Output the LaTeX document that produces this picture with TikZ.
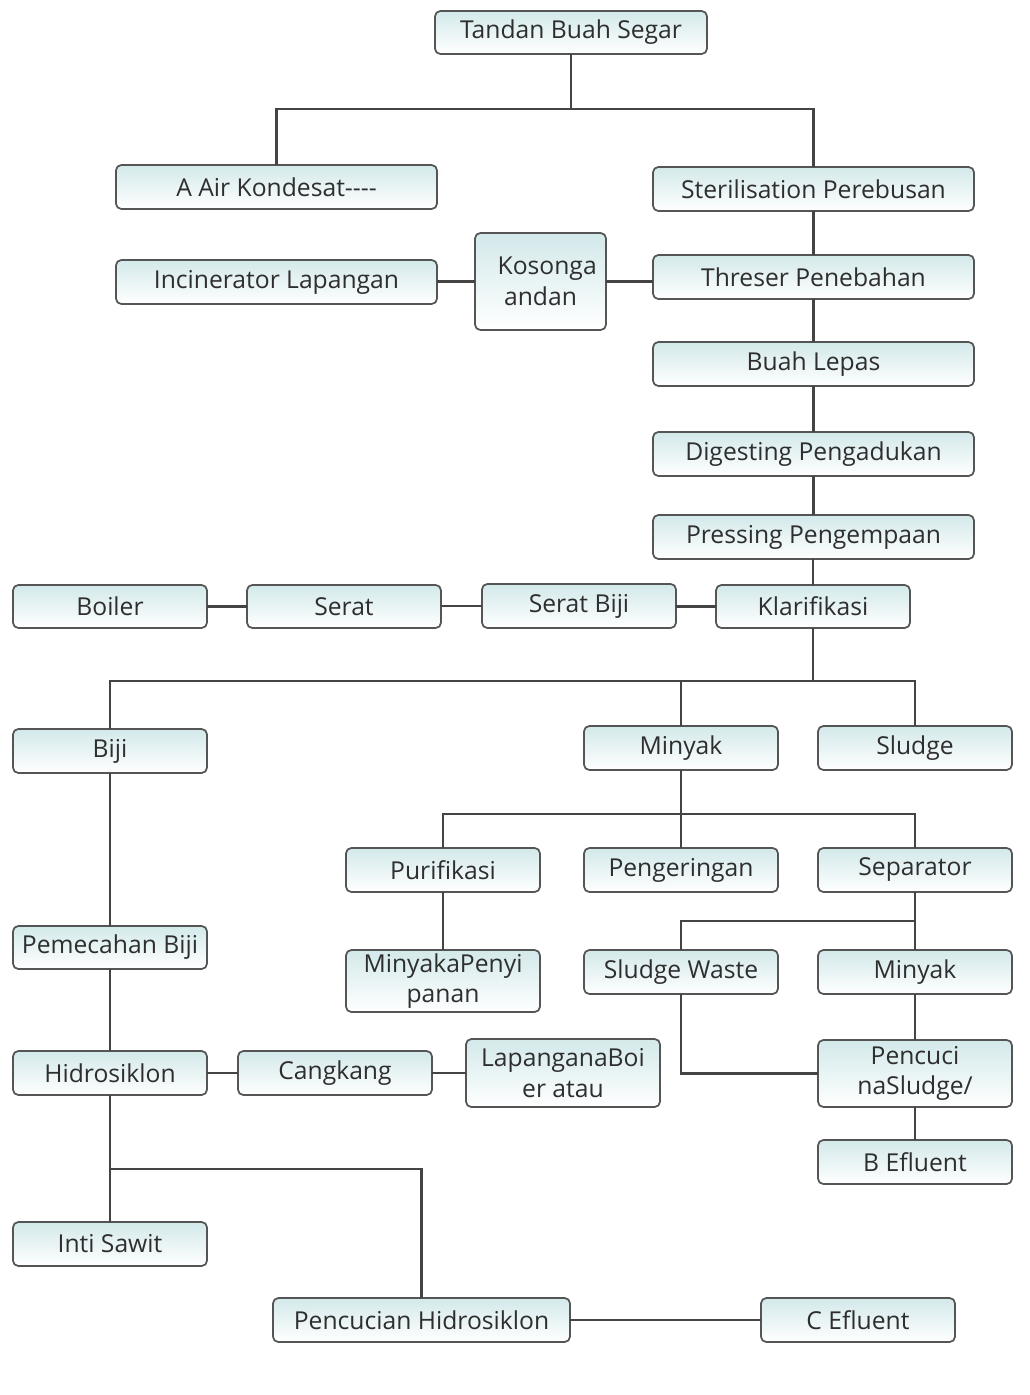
\documentclass[tikz,border=0pt]{standalone}
\usepackage{fontspec}
\setmainfont{Open Sans}
\begin{document}
\begin{tikzpicture}[x=0.75pt,y=-0.75pt,
  box/.style={draw=boxline, line width=1.3pt, rounded corners=4pt,
    top color=boxtop, bottom color=white, text=txt, inner sep=0pt, outer sep=0pt,
    align=center, font=\fontsize{18.5}{23}\selectfont},
  conn/.style={draw=lineclr, line width=2.2pt}]
\definecolor{boxtop}{HTML}{D3E9EA}
\definecolor{boxline}{HTML}{555555}
\definecolor{lineclr}{HTML}{444444}
\definecolor{txt}{HTML}{2E2E2E}
\useasboundingbox[fill=white] (0,0) rectangle (1029,1395);
\newcommand\pbox[6]{%
  \node[box, minimum width={(#4-#2)*0.75pt}, minimum height={(#5-#3)*0.75pt}]
    (#1) at ({(#2+#4)/2},{(#3+#5)/2}) {#6};}
% ---- nodes
\pbox{tbs}{435}{11}{707}{54}{Tandan Buah Segar}
\pbox{air}{116}{165}{437}{209}{A Air Kondesat-{}-{}-{}-}
\pbox{ster}{653}{167}{974}{211}{Sterilisation Perebusan}
\pbox{inc}{116}{260}{437}{304}{Incinerator Lapangan}
\pbox{kos}{475}{233}{606}{330}{\fontsize{18.5}{26}\selectfont\hspace*{10pt}Kosonga\\andan}
\pbox{thr}{653}{255}{974}{299}{Threser Penebahan}
\pbox{bua}{653}{342}{974}{386}{Buah Lepas}
\pbox{dig}{653}{432}{974}{476}{Digesting Pengadukan}
\pbox{pre}{653}{515}{974}{559}{Pressing Pengempaan}
\pbox{boi}{13}{585}{207}{628}{Boiler}
\pbox{ser}{247}{585}{441}{628}{Serat}
\pbox{sbj}{482}{584}{676}{628}{Serat Biji}
\pbox{kla}{716}{585}{910}{628}{Klarifikasi}
\pbox{bij}{13}{729}{207}{773}{Biji}
\pbox{miny}{584}{726}{778}{770}{Minyak}
\pbox{slu}{818}{726}{1012}{770}{Sludge}
\pbox{pur}{346}{848}{540}{892}{Purifikasi}
\pbox{pen}{584}{848}{778}{892}{Pengeringan}
\pbox{sep}{818}{848}{1012}{892}{Separator}
\pbox{pem}{13}{926}{207}{969}{Pemecahan Biji}
\pbox{mpe}{346}{950}{540}{1012}{\fontsize{18.5}{22}\selectfont MinyakaPenyi\\panan}
\pbox{slw}{584}{950}{778}{994}{Sludge Waste}
\pbox{minb}{818}{950}{1012}{994}{Minyak}
\pbox{hid}{13}{1051}{207}{1095}{Hidrosiklon}
\pbox{cang}{238}{1051}{432}{1095}{Cangkang}
\pbox{lap}{466}{1039}{660}{1107}{\fontsize{18.5}{19}\selectfont LapanganaBoi\\er atau}
\pbox{pcs}{818}{1040}{1012}{1107}{\fontsize{18.5}{24}\selectfont Pencuci\\naSludge/}
\pbox{bef}{818}{1140}{1012}{1184}{B Efluent}
\pbox{inti}{13}{1222}{207}{1266}{Inti Sawit}
\pbox{pch}{273}{1298}{570}{1342}{Pencucian Hidrosiklon}
\pbox{cef}{761}{1298}{955}{1342}{C Efluent}
% ---- junctions
\coordinate (j1) at (571,109);
\coordinate (j2) at (813,681);
\coordinate (j3) at (681,814);
\coordinate (j4) at (915,921);
\coordinate (j5) at (110,1169);
% ---- connectors
\draw[conn] (tbs.south) -- (j1);
\draw[conn] (air.north) |- (j1) -| (ster.north);
\draw[conn] (ster.south) -- (ster.south |- thr.north);
\draw[conn] (kos.east) -- (kos.east -| thr.west);
\draw[conn] (kos.west) -- (kos.west -| inc.east);
\draw[conn] (thr.south) -- (thr.south |- bua.north);
\draw[conn] (bua.south) -- (bua.south |- dig.north);
\draw[conn] (dig.south) -- (dig.south |- pre.north);
\draw[conn] (kla.north) -- (kla.north |- pre.south);
\draw[conn] (kla.west) -- (kla.west -| sbj.east);
\draw[conn] (sbj.west) -- (sbj.west -| ser.east);
\draw[conn] (ser.west) -- (ser.west -| boi.east);
\draw[conn] (kla.south) -- (j2);
\draw[conn] (bij.north) |- (j2) -| (slu.north);
\draw[conn] (j2 -| miny.north) -- (miny.north);
\draw[conn] (miny.south) -- (j3);
\draw[conn] (pur.north) |- (j3) -| (sep.north);
\draw[conn] (j3) -- (pen.north);
\draw[conn] (pur) -- (mpe);
\draw[conn] (sep.south) -- (j4);
\draw[conn] (slw.north) |- (j4) -- (minb.north);
\draw[conn] (minb) -- (pcs);
\draw[conn] (slw.south) |- (pcs.west);
\draw[conn] (pcs) -- (bef);
\draw[conn] (bij) -- (pem);
\draw[conn] (pem) -- (hid);
\draw[conn] (hid) -- (cang);
\draw[conn] (cang.east) -- (cang.east -| lap.west);
\draw[conn] (hid.south) -- (j5);
\draw[conn] (j5) -- (inti.north);
\draw[conn] (j5) -| (pch.north);
\draw[conn] (pch) -- (cef);
\end{tikzpicture}
\end{document}
